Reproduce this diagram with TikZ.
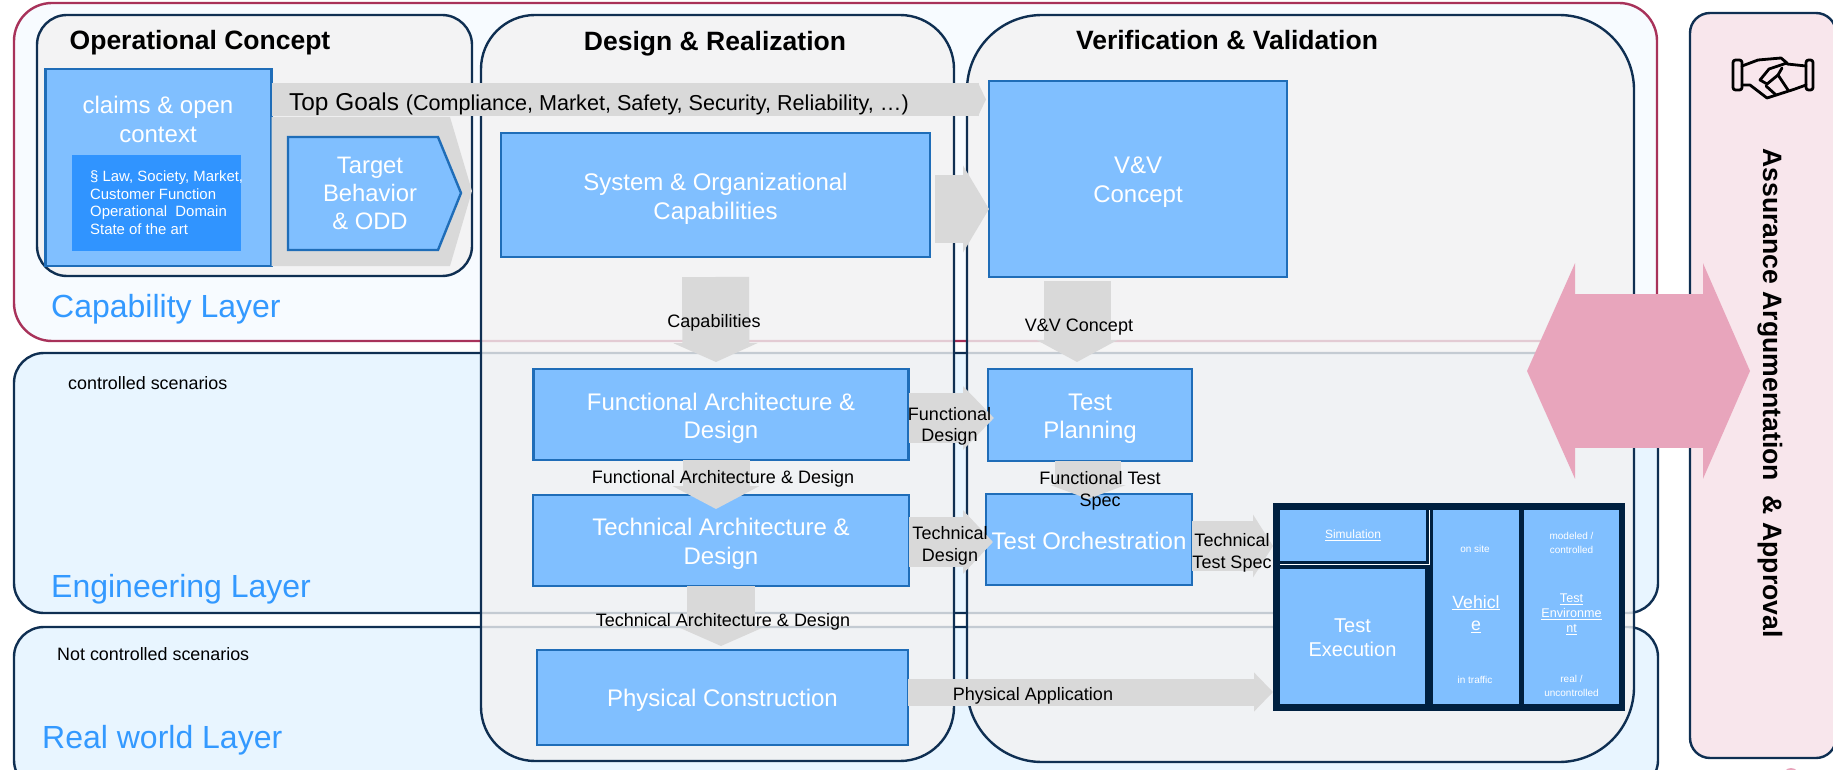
\documentclass[tikz,border=0pt]{standalone}
\usepackage{fontspec}
\setmainfont{Liberation Sans}
\usetikzlibrary{arrows.meta}
\definecolor{navyline}{HTML}{0F2F52}
\definecolor{wineline}{HTML}{A8325A}
\definecolor{capfill}{HTML}{F7FBFF}
\definecolor{layerfill}{HTML}{E8F5FF}
\definecolor{assurefill}{HTML}{F8E6EC}
\definecolor{colfill}{HTML}{F2F2F2}
\definecolor{boxfill}{HTML}{80BFFF}
\definecolor{boxline}{HTML}{1F6DB8}
\definecolor{innerfill}{HTML}{3094FF}
\definecolor{arrowgray}{HTML}{D9D9D9}
\definecolor{layertext}{HTML}{3399FF}
\definecolor{pinkarrow}{HTML}{E8A5BC}
\definecolor{framenavy}{HTML}{002040}
\newcommand{\pxfont}[2]{\fontsize{#1}{#2}\selectfont}
\tikzset{
  layerbox/.style={draw=navyline,line width=2.4pt,fill=layerfill,rounded corners=30pt},
  colbox/.style={draw=navyline,line width=2.4pt,fill=colfill,fill opacity=.8},
  bluebox/.style={draw=boxline,line width=2.4pt,fill=boxfill,inner sep=0pt,outer sep=0pt},
  boxtext/.style={text=white,align=center,inner sep=0pt,yshift=#1,font=\pxfont{24}{28.5}},
  boxtext/.default=-3.5pt,
  cellbox/.style={fill=boxfill,inner sep=0pt,outer sep=0pt},
  celllabel/.style={text=white,align=center,inner sep=0pt,yshift=#1},
  coltitle/.style={font=\bfseries\pxfont{26.5}{30}},
  layertitle/.style={text=layertext,anchor=west,inner sep=0pt,font=\pxfont{32}{36}},
  scenariotext/.style={anchor=west,inner sep=0pt,font=\pxfont{17.9}{22}},
  smalltext/.style={align=center,inner sep=0pt,font=\pxfont{18}{21.5}},
  celltext/.style={text=white,align=center,inner sep=0pt,font=\pxfont{10}{14}},
  blockarrow/.style n args={3}{draw=arrowgray,line width=#1,-{Triangle[length=#2,width=#3]}},
}
\begin{document}
\begin{tikzpicture}[x=1pt,y=-1pt]
\useasboundingbox (0,0) rectangle (1833,770);

% layers
\draw[layerbox,draw=wineline,fill=capfill,rounded corners=38pt] (14,3) rectangle (1657,341);
\draw[layerbox] (14,353) rectangle (1658,613);
\draw[layerbox] (14,627) rectangle (1658,790);
\draw[layerbox,fill=assurefill,rounded corners=20pt] (1690,13) rectangle (1836,758);
\fill[pinkarrow] (1791,776) circle (8);

% columns
\draw[colbox,rounded corners=30pt] (37,15) rectangle (472,276);
\draw[colbox,rounded corners=54pt] (481,15) rectangle (954,761);
\draw[colbox,rounded corners=75pt] (967,15) rectangle (1634,762);

\node[coltitle] (opconcepttitle) at (200,43) {Operational Concept};
\node[coltitle] (designtitle) at (715,44) {Design \& Realization};
\node[coltitle] (vvtitle) at (1227,40) {Verification \& Validation};

\node[layertitle] (caplayer) at (51,309) {Capability Layer};
\node[layertitle] (englayer) at (51,589) {Engineering Layer};
\node[layertitle] (reallayer) at (42,740) {Real world Layer};
\node[scenariotext] (controlled) at (68,383.5) {controlled scenarios};
\node[scenariotext] (notcontrolled) at (57,654.5) {Not controlled scenarios};

% boxes
\node[bluebox,minimum width=226pt,minimum height=197pt] (claims) at (158.5,167.5) {};
\node[bluebox,minimum width=429pt,minimum height=124pt,label={[boxtext=-4pt]center:{System \& Organizational\\Capabilities}}] (sysorg) at (715.5,195) {};
\node[bluebox,minimum width=298pt,minimum height=196pt,label={[boxtext=-3pt]center:{V\&V\\Concept}}] (vvconcept) at (1138,179) {};
\node[bluebox,minimum width=375pt,minimum height=91pt,label={[boxtext=-4pt]center:{Functional Architecture \&\\Design}}] (funcarch) at (721,414.5) {};
\node[bluebox,minimum width=376pt,minimum height=91pt,label={[boxtext]center:{Technical Architecture \&\\Design}}] (techarch) at (721,540.5) {};
\node[bluebox,minimum width=371pt,minimum height=95pt,label={[boxtext=-2.5pt]center:{Physical Construction}}] (physical) at (722.5,697.5) {};
\node[bluebox,minimum width=204pt,minimum height=92pt,label={[boxtext]center:{Test\\Planning}}] (planning) at (1090,415) {};
\node[bluebox,minimum width=206pt,minimum height=91pt,label={[boxtext=-1.5pt]center:{Test Orchestration}}] (orchestration) at (1089,539.5) {};

% gray arrows
\fill[arrowgray] (claims.north east |- 0,117) -- (450,117) -- (472,191) -- (450,266) -- (claims.south east) -- cycle;
\draw[blockarrow={33pt}{8pt}{33pt}] ([yshift=68pt]claims.east) -- ([xshift=-3pt,yshift=79.5pt]vvconcept.west);
\draw[blockarrow={67pt}{26pt}{86pt}] ([xshift=5pt,yshift=-14pt]sysorg.east) -- ([yshift=-30pt]vvconcept.west);
\draw[blockarrow={67pt}{19pt}{84pt}] ([yshift=-20pt]sysorg.south) -- ([xshift=-5pt,yshift=7pt]funcarch.north);
\draw[blockarrow={67pt}{22pt}{80pt}] ([xshift=-61pt,yshift=-4pt]vvconcept.south) -- ([xshift=-13pt,yshift=7pt]planning.north);
\draw[blockarrow={67pt}{23pt}{86pt}] ([xshift=-5pt]funcarch.south) -- ([xshift=-5pt,yshift=-14pt]techarch.north);
\draw[blockarrow={68pt}{18pt}{81pt}] (techarch.south) -- ([xshift=-1.5pt,yshift=4pt]physical.north);
\draw[blockarrow={50pt}{31pt}{62pt}] ([yshift=-3.5pt]funcarch.east) -- ([xshift=6pt,yshift=-3pt]planning.west);
\draw[blockarrow={50pt}{30pt}{62pt}] ([yshift=-1.5pt]techarch.east) -- ([xshift=7pt,yshift=-2.5pt]orchestration.west);
\draw[blockarrow={66pt}{14pt}{75pt}] ([xshift=-2pt]planning.south) -- ([xshift=-1pt,yshift=-5pt]orchestration.north);

% execution frame
\node[inner sep=0pt,outer sep=0pt,fill=framenavy,minimum width=352pt,minimum height=208pt] (execframe) at (1449,607) {};
\draw[blockarrow={50pt}{20pt}{62pt}] ([yshift=-6.5pt]orchestration.east) -- ([yshift=61pt]execframe.west);
\draw[blockarrow={27pt}{19pt}{38pt}] ([yshift=5.5pt]physical.east) -- ([yshift=-85pt]execframe.west);
\node[cellbox,minimum width=146pt,minimum height=51pt,label={[celllabel=0pt,font=\pxfont{12}{15}]center:{\underline{Simulation}}}] (simulation) at (1353,535.5) {};
\node[cellbox,minimum width=145pt,minimum height=135pt,label={[celllabel=-1pt,font=\pxfont{20}{24}]center:{Test\\Execution}}] (execution) at (1352.5,636.5) {};
\node[cellbox,minimum width=86pt,minimum height=194pt,label={[celllabel=-7pt,font=\pxfont{17.7}{22.5}]center:{\underline{Vehicl}\\\underline{e}}}] (vehicle) at (1476,607) {};
\node[cellbox,minimum width=95pt,minimum height=194pt,label={[celllabel=-7pt,font=\pxfont{12.6}{15}]center:{\underline{Test}\\\underline{Environme}\\\underline{nt}}}] (testenv) at (1571.5,607) {};
\draw[white,line width=.8pt] ([xshift=3pt]simulation.north east) -- ([xshift=3pt,yshift=-3pt]simulation.south east) -- ([yshift=-3pt]simulation.south west);
\node[celltext] (onsite) at (1475,549) {on site};
\node[celltext] (intraffic) at (1475,680) {in traffic};
\node[celltext] (modeled) at (1571.5,543) {modeled /\\controlled};
\node[celltext] (realun) at (1571.5,686) {real /\\uncontrolled};

% box contents
\node[fill=innerfill,minimum width=169pt,minimum height=96pt,inner sep=0pt] (claimsinner) at (156.5,203) {};
\node[anchor=west,align=left,text=white,inner sep=0pt,font=\pxfont{14.9}{17.6}] (claimslist) at (90,202.5) {§ Law, Society, Market,\\Customer Function\\Operational\ \ Domain\\State of the art};
\node[text=white,align=center,inner sep=0pt,font=\pxfont{24}{29}] (claimstext) at (158,119) {claims \& open\\context};
\draw[draw=boxline,line width=2.4pt,fill=boxfill] (288,137) -- (438,137) -- (461,193) -- (438,250) -- (288,250) -- cycle;
\node[text=white,align=center,inner sep=0pt,font=\pxfont{23.8}{28}] (target) at (370,193) {Target\\Behavior\\\& ODD};

% labels
\node[anchor=west,inner sep=0pt] (topgoals) at (289,104.5) {\pxfont{24.4}{28}Top Goals \pxfont{21.6}{28}(Compliance, Market, Safety, Security, Reliability, …)};
\node[smalltext] (caplabel) at (714,323) {Capabilities};
\node[smalltext] (vvlabel) at (1079,327) {V\&V Concept};
\node[smalltext] (funclabel) at (723,479) {Functional Architecture \& Design};
\node[smalltext] (techlabel) at (723,622) {Technical Architecture \& Design};
\node[smalltext] (funcdesign) at (949.5,426.5) {Functional\\Design};
\node[smalltext] (techdesign) at (950,546) {Technical\\Design};
\node[smalltext] (functest) at (1100,491) {Functional Test\\Spec};
\node[smalltext] (techtest) at (1232,553) {Technical\\Test Spec};
\node[smalltext] (physlabel) at (1033,696) {Physical Application};

% assurance
\coordinate (linkleft) at (1527,371);
\coordinate (linkright) at (1750,371);
\draw[draw=pinkarrow,line width=154pt,{Triangle[length=48pt,width=214pt]}-{Triangle[length=47pt,width=214pt]}] (linkleft) -- (linkright);
\node[rotate=-90,inner sep=0pt,font=\bfseries\pxfont{26.6}{30}] (assurance) at (1770,393) {Assurance Argumentation\ \ \& Approval};

% handshake
\begin{scope}[line width=2.8pt,line join=round,line cap=round]
\draw[rounded corners=2.5pt] (1733,60) rectangle (1742,90);
\draw[rounded corners=2.5pt] (1806,60) rectangle (1813,90);
\draw (1742,66) -- (1758,60) -- (1781,58) -- (1787,63) -- (1769,69) -- (1760,80) -- (1767,84) -- (1778,75) -- (1788,90);
\draw (1742,85) -- (1750,85) -- (1767,98) -- (1795,89) -- (1806,85);
\draw (1787,64) -- (1806,66);
\draw (1778,75) -- (1782,68);
\draw (1766,86) -- (1776,95);
\end{scope}
\end{tikzpicture}
\end{document}
